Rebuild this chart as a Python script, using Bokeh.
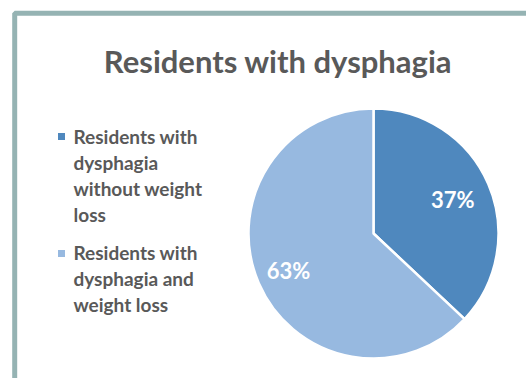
from math import pi, cos, sin
from bokeh.plotting import figure
from bokeh.models import Range1d
from bokeh.core.properties import value
from bokeh.embed import file_html
from bokeh.resources import INLINE

title = "Residents with dysphagia"
categories = ["Residents with\ndysphagia\nwithout weight\nloss", "Residents with\ndysphagia and\nweight loss"]
values = [37, 63]
labels = ["37%", "63%"]
colors = ["#4F88BE", "#97B9E0"]

W, H = 526, 378
FONT = value("Lato")
p = figure(width=W, height=H, output_backend="svg", toolbar_location=None,
           x_range=Range1d(0, W), y_range=Range1d(0, H), min_border=0)
p.axis.visible = False
p.grid.visible = False
p.outline_line_color = None
p.background_fill_color = "white"
p.border_fill_color = "white"

# frame
p.quad(left=[14.2], right=[W + 20], top=[H - 12.8], bottom=[-20],
       fill_color=None, line_color="#95B3B3", line_width=5)

# title
p.text(x=[277.5], y=[H - 60], text=[title], text_font=FONT,
       text_font_size="31px", text_font_style="bold", text_color="#595959",
       text_align="center", text_baseline="alphabetic")

# pie
cx, cy, r = 373, H - 233, 125
total = sum(values)
start = pi / 2
starts, ends = [], []
for v in values:
    a = 2 * pi * v / total
    starts.append(start - a)
    ends.append(start)
    start -= a
p.wedge(x=[cx] * 2, y=[cy] * 2, radius=r, start_angle=starts, end_angle=ends,
        fill_color=colors, line_color="white", line_width=2.5)

# labels
lx, ly = [], []
for s, e, f in zip(starts, ends, [0.69, 0.74]):
    m = (s + e) / 2
    lx.append(cx + f * r * cos(m))
    ly.append(cy + f * r * sin(m))
p.text(x=lx, y=ly, text=labels, text_font=FONT, text_font_size="22px",
       text_font_style="bold", text_color="white", text_align="center",
       text_baseline="middle")

# legend
marker_y = [H - 136, H - 253]
first_baseline = [136, 252]
line_step = 26
p.rect(x=[61] * 2, y=marker_y, width=7, height=7, fill_color=colors, line_color=None)
tx, ty, tt = [], [], []
for cat, b in zip(categories, first_baseline):
    for i, line in enumerate(cat.split("\n")):
        tx.append(73)
        ty.append(H - (b + i * line_step))
        tt.append(line)
p.text(x=tx, y=ty, text=tt, text_font=FONT,
       text_font_size="19px", text_font_style="bold", text_color="#595959",
       text_align="left", text_baseline="alphabetic")

open("out.html", "w").write(file_html(p, INLINE))
